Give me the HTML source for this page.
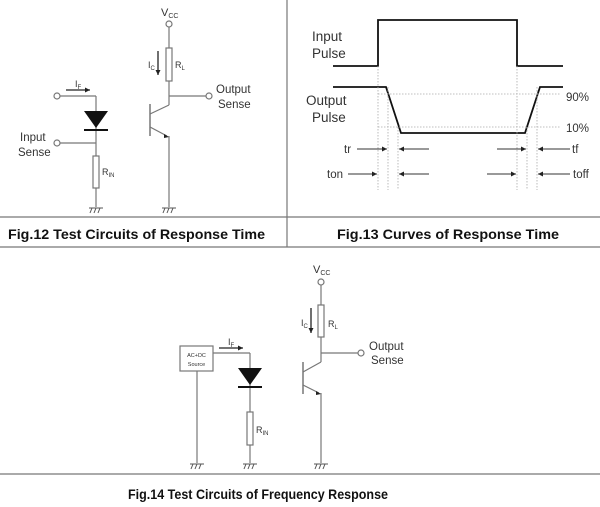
<!DOCTYPE html>
<html><head><meta charset="utf-8"><style>
html,body{margin:0;padding:0;background:#fff;}
svg{display:block;}
text{font-family:"Liberation Sans",Arial,sans-serif;fill:#333;}
.cap{font-weight:bold;fill:#111;}
</style></head><body>
<svg width="600" height="507" viewBox="0 0 600 507" xmlns="http://www.w3.org/2000/svg" font-size="11.5">
<defs>
<marker id="ar" markerWidth="6" markerHeight="6" refX="5" refY="3" orient="auto" markerUnits="userSpaceOnUse"><path d="M0,0.5 L5,3 L0,5.5 Z" fill="#222"/></marker>
<g id="gnd" stroke="#555" stroke-width="1" fill="none"><line x1="-7" y1="0" x2="7" y2="0"/><line x1="-4" y1="0" x2="-6" y2="5"/><line x1="0" y1="0" x2="-2" y2="5"/><line x1="4" y1="0" x2="2" y2="5"/></g>
</defs>
<g stroke="#777" stroke-width="1.2">
<line x1="287" y1="0" x2="287" y2="247"/>
<line x1="0" y1="217" x2="600" y2="217"/>
<line x1="0" y1="247" x2="600" y2="247"/>
<line x1="0" y1="474" x2="600" y2="474"/>
</g>
<!-- Fig 12 -->
<g stroke="#777" stroke-width="1.2" fill="none">
<circle cx="169" cy="24" r="3" fill="#fff"/>
<line x1="169" y1="27" x2="169" y2="48"/>
<rect x="166" y="48" width="6" height="33" fill="#fff"/>
<line x1="169" y1="81" x2="169" y2="105"/>
<line x1="169" y1="96" x2="206" y2="96"/>
<circle cx="209" cy="96" r="3" fill="#fff"/>
<line x1="150" y1="104" x2="150" y2="136" stroke-width="1.5"/>
<line x1="150" y1="114" x2="169" y2="105"/>
<line x1="150" y1="127" x2="167" y2="136"/>
<line x1="169" y1="136" x2="169" y2="207"/>
<circle cx="57" cy="96" r="3" fill="#fff"/>
<line x1="60" y1="96" x2="96" y2="96"/>
<line x1="96" y1="96" x2="96" y2="207"/>
<circle cx="57" cy="143" r="3" fill="#fff"/>
<line x1="60" y1="143" x2="96" y2="143"/>
<rect x="93" y="156" width="6" height="32" fill="#fff"/>
</g>
<path d="M164,134 L169,137 L164,138 Z" fill="#222"/>
<path d="M84,111 L108,111 L96,128 Z" fill="#111"/>
<line x1="84" y1="130" x2="108" y2="130" stroke="#111" stroke-width="2"/>
<line x1="158" y1="51" x2="158" y2="75" stroke="#222" stroke-width="1.3" marker-end="url(#ar)"/>
<line x1="66" y1="90" x2="90" y2="90" stroke="#222" stroke-width="1.3" marker-end="url(#ar)"/>
<use href="#gnd" x="96" y="208"/>
<use href="#gnd" x="169" y="208"/>
<text x="161" y="16" font-size="11">V<tspan font-size="7" dy="2">CC</tspan></text>
<text x="148" y="68" font-size="9">I<tspan font-size="6" dy="2">C</tspan></text>
<text x="175" y="68" font-size="9">R<tspan font-size="6" dy="2">L</tspan></text>
<text x="75" y="87" font-size="9">I<tspan font-size="6" dy="2">F</tspan></text>
<text x="102" y="175" font-size="9">R<tspan font-size="6" dy="2">IN</tspan></text>
<text x="216" y="93">Output</text>
<text x="218" y="108">Sense</text>
<text x="20" y="141">Input</text>
<text x="18" y="156">Sense</text>
<text class="cap" font-size="14" x="8" y="239" textLength="257" lengthAdjust="spacingAndGlyphs">Fig.12 Test Circuits of Response Time</text>
<!-- Fig 13 -->
<g stroke="#111" stroke-width="1.8" fill="none">
<polyline points="333,66 378,66 378,20 517,20 517,66 563,66"/>
<polyline points="333,87 386,87 401,133 525,133 540,87 563,87"/>
</g>
<g stroke="#aaa" stroke-width="0.8" stroke-dasharray="1.5,1.5" fill="none">
<line x1="378" y1="94" x2="560" y2="94"/>
<line x1="378" y1="127" x2="560" y2="127"/>
<line x1="378" y1="66" x2="378" y2="190"/>
<line x1="388" y1="87" x2="388" y2="190"/>
<line x1="398" y1="127" x2="398" y2="190"/>
<line x1="517" y1="66" x2="517" y2="190"/>
<line x1="527" y1="127" x2="527" y2="190"/>
<line x1="537" y1="87" x2="537" y2="190"/>
</g>
<g stroke="#333" stroke-width="0.9">
<line x1="357" y1="149" x2="387" y2="149" marker-end="url(#ar)"/>
<line x1="429" y1="149" x2="399" y2="149" marker-end="url(#ar)"/>
<line x1="497" y1="149" x2="526" y2="149" marker-end="url(#ar)"/>
<line x1="570" y1="149" x2="538" y2="149" marker-end="url(#ar)"/>
<line x1="348" y1="174" x2="377" y2="174" marker-end="url(#ar)"/>
<line x1="429" y1="174" x2="399" y2="174" marker-end="url(#ar)"/>
<line x1="487" y1="174" x2="516" y2="174" marker-end="url(#ar)"/>
<line x1="570" y1="174" x2="538" y2="174" marker-end="url(#ar)"/>
</g>
<text x="312" y="41" font-size="13.5">Input</text>
<text x="312" y="58" font-size="13.5">Pulse</text>
<text x="306" y="105" font-size="13.5">Output</text>
<text x="312" y="122" font-size="13.5">Pulse</text>
<text x="566" y="101">90%</text>
<text x="566" y="132">10%</text>
<text x="344" y="153">tr</text>
<text x="572" y="153">tf</text>
<text x="327" y="178">ton</text>
<text x="573" y="178">toff</text>
<text class="cap" font-size="14" x="337" y="239" textLength="222" lengthAdjust="spacingAndGlyphs">Fig.13 Curves of Response Time</text>
<!-- Fig 14 -->
<g stroke="#777" stroke-width="1.2" fill="none">
<circle cx="321" cy="282" r="3" fill="#fff"/>
<line x1="321" y1="285" x2="321" y2="305"/>
<rect x="318" y="305" width="6" height="32" fill="#fff"/>
<line x1="321" y1="337" x2="321" y2="362"/>
<line x1="321" y1="353" x2="358" y2="353"/>
<circle cx="361" cy="353" r="3" fill="#fff"/>
<line x1="303" y1="362" x2="303" y2="394" stroke-width="1.5"/>
<line x1="303" y1="372" x2="321" y2="362"/>
<line x1="303" y1="385" x2="319" y2="393"/>
<line x1="321" y1="393" x2="321" y2="463"/>
<rect x="180" y="346" width="33" height="25" fill="#fff"/>
<line x1="213" y1="353" x2="250" y2="353"/>
<line x1="250" y1="353" x2="250" y2="463"/>
<line x1="197" y1="371" x2="197" y2="463"/>
<rect x="247" y="412" width="6" height="33" fill="#fff"/>
</g>
<path d="M316,391 L321,394 L316,395 Z" fill="#222"/>
<path d="M238,368 L262,368 L250,385 Z" fill="#111"/>
<line x1="238" y1="387" x2="262" y2="387" stroke="#111" stroke-width="2"/>
<line x1="311" y1="308" x2="311" y2="333" stroke="#222" stroke-width="1.3" marker-end="url(#ar)"/>
<line x1="219" y1="348" x2="243" y2="348" stroke="#222" stroke-width="1.3" marker-end="url(#ar)"/>
<use href="#gnd" x="197" y="464"/>
<use href="#gnd" x="250" y="464"/>
<use href="#gnd" x="321" y="464"/>
<text x="313" y="273" font-size="11">V<tspan font-size="7" dy="2">CC</tspan></text>
<text x="301" y="326" font-size="9">I<tspan font-size="6" dy="2">C</tspan></text>
<text x="328" y="327" font-size="9">R<tspan font-size="6" dy="2">L</tspan></text>
<text x="228" y="345" font-size="9">I<tspan font-size="6" dy="2">F</tspan></text>
<text x="256" y="433" font-size="9">R<tspan font-size="6" dy="2">IN</tspan></text>
<text x="196.5" y="357" font-size="5.5" text-anchor="middle">AC+DC</text>
<text x="196.5" y="366" font-size="5.5" text-anchor="middle">Source</text>
<text x="369" y="350">Output</text>
<text x="371" y="364">Sense</text>
<text class="cap" font-size="14" x="128" y="499" textLength="260" lengthAdjust="spacingAndGlyphs">Fig.14 Test Circuits of Frequency Response</text>
</svg>
</body></html>
